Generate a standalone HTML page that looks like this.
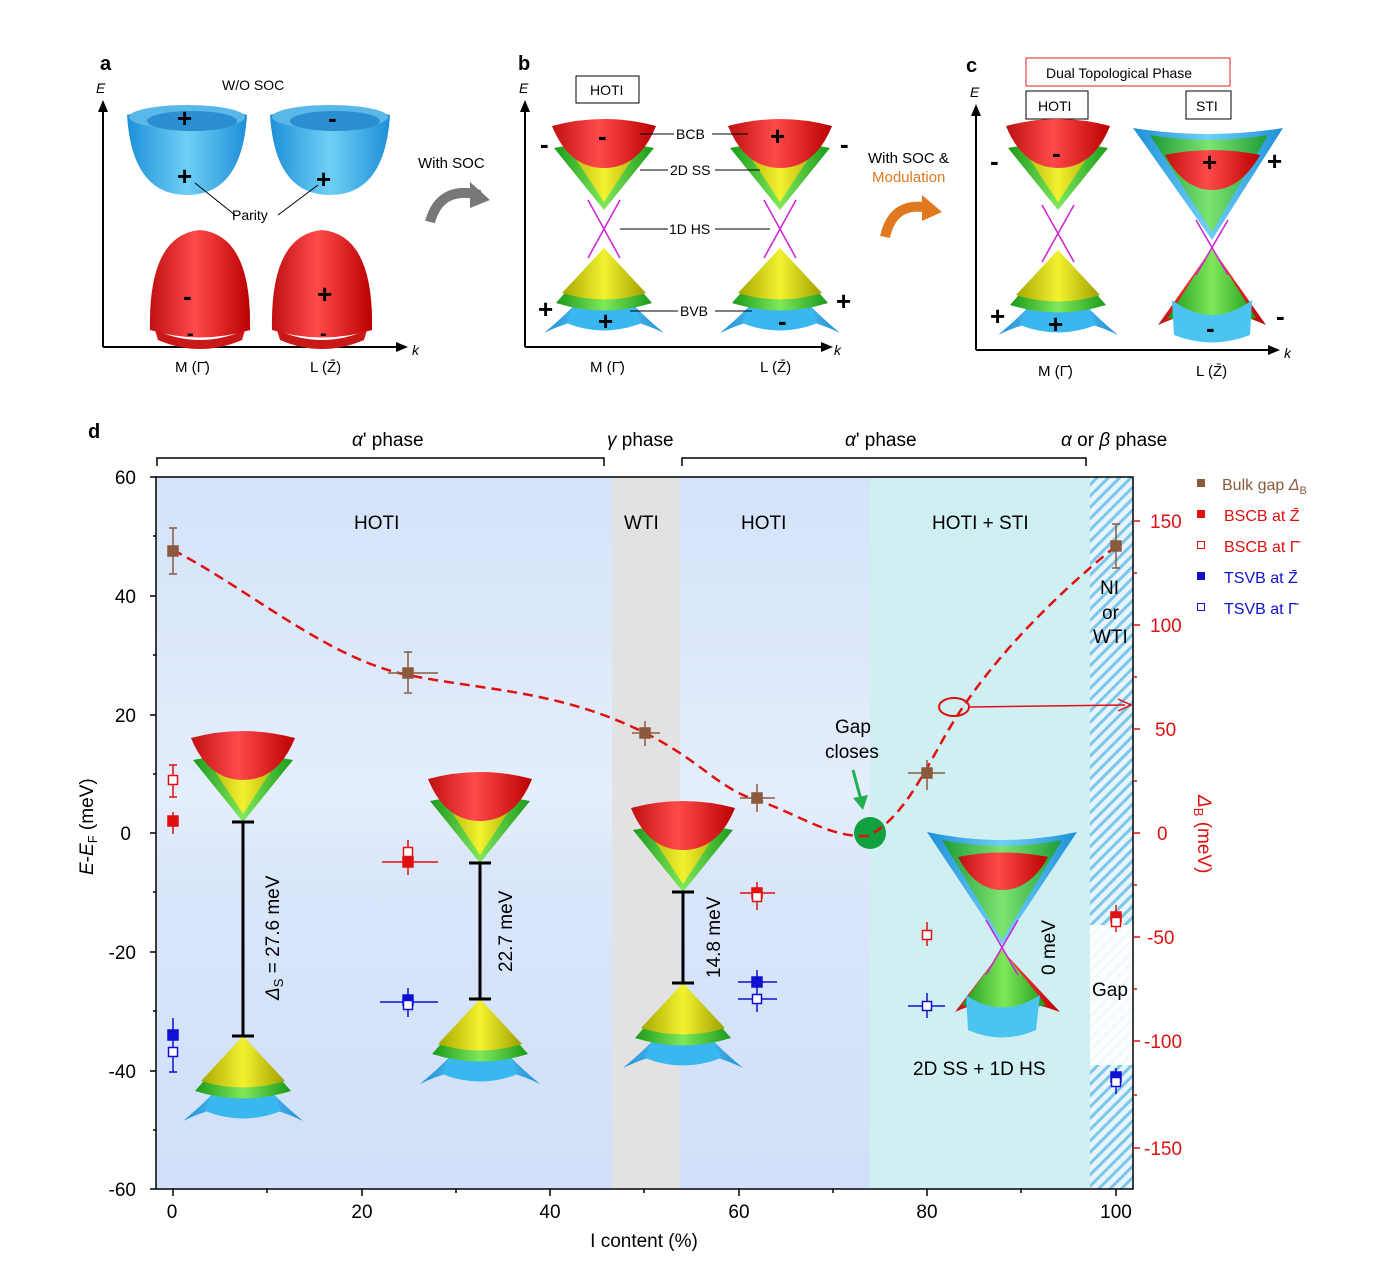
<!DOCTYPE html>
<html><head><meta charset="utf-8"><style>body{margin:0;background:#fff}svg{display:block;font-family:"Liberation Sans",Arial,sans-serif}</style></head><body>
<svg width="1386" height="1275" viewBox="0 0 1386 1275" xmlns="http://www.w3.org/2000/svg">
<defs>
<linearGradient id="blue" x1="0" x2="1"><stop offset="0" stop-color="#1e8fd8"/><stop offset=".5" stop-color="#6fd0f5"/><stop offset="1" stop-color="#1e8fd8"/></linearGradient>
<linearGradient id="red" x1="0" x2="1"><stop offset="0" stop-color="#c01010"/><stop offset=".45" stop-color="#ff4a4a"/><stop offset="1" stop-color="#b00"/></linearGradient>
<linearGradient id="yel" x1="0" x2="1"><stop offset="0" stop-color="#a8a800"/><stop offset=".5" stop-color="#f2f230"/><stop offset="1" stop-color="#a0a000"/></linearGradient>
<linearGradient id="grn" x1="0" x2="1"><stop offset="0" stop-color="#1a9a1a"/><stop offset=".5" stop-color="#7fe85a"/><stop offset="1" stop-color="#1a9a1a"/></linearGradient>
<linearGradient id="bg1" x1="0" y1="0" x2="0" y2="1"><stop offset="0" stop-color="#d3e3f9"/><stop offset=".45" stop-color="#e4eefc"/><stop offset=".55" stop-color="#dae6fa"/><stop offset="1" stop-color="#cfe0f8"/></linearGradient>
<pattern id="hatch" width="8" height="8" patternUnits="userSpaceOnUse" patternTransform="rotate(45)"><rect width="8" height="8" fill="#e8f4fb"/><rect width="3" height="8" fill="#7cc6ea"/></pattern>
<g id="up">
<path d="M-50,-62 L0,0 L50,-62 Q0,-72 -50,-62Z" fill="url(#grn)"/>
<path d="M-42,-72 L0,-8 L42,-72Z" fill="url(#yel)"/>
<path d="M-52,-84 Q0,-98 52,-84 Q35,-42 0,-42 Q-35,-42 -52,-84Z" fill="url(#red)"/>
</g>
<g id="dn">
<path d="M-60,85 Q-30,60 -15,40 L15,40 Q30,60 60,85 Q0,55 -60,85Z" fill="url(#blue)"/>
<path d="M-38,75 Q0,90 38,75 L30,55 L-30,55Z" fill="#38b8ee"/>
<path d="M0,0 L-48,55 Q0,70 48,55Z" fill="url(#grn)"/>
<path d="M0,0 L-42,45 Q0,58 42,45Z" fill="url(#yel)"/>
</g>
<g id="bowl"><path d="M-60,-30 Q-55,50 0,50 Q55,50 60,-30 Q0,-48 -60,-30Z" fill="url(#blue)"/><ellipse cx="0" cy="-28" rx="58" ry="12" fill="#5ab8e8"/><ellipse cx="5" cy="-24" rx="45" ry="10" fill="#2a8ed0"/></g>
<g id="dome"><path d="M-50,40 Q-52,-55 0,-60 Q52,-55 50,40 Q0,55 -50,40Z" fill="url(#red)"/><path d="M-45,40 Q0,60 45,40 L42,50 Q0,68 -42,50Z" fill="#c81818"/></g>
</defs>

<!-- Panel a -->
<text x="100" y="70" font-size="20" font-weight="bold">a</text>
<text x="96" y="93" font-size="14" font-style="italic">E</text>
<path d="M103,347 V108 M103,347 H400" stroke="#000" stroke-width="2" fill="none"/>
<path d="M98,112 L103,100 L108,112Z M396,342 L408,347 L396,352Z"/>
<text x="222" y="90" font-size="14">W/O SOC</text>
<use href="#bowl" x="187" y="145"/><use href="#bowl" x="330" y="145"/>
<use href="#dome" x="200" y="290"/><use href="#dome" x="322" y="290"/>
<g font-size="26" font-weight="bold"><text x="177" y="127">+</text><text x="328" y="127">-</text><text x="177" y="185">+</text><text x="316" y="188">+</text><text x="183" y="305">-</text><text x="317" y="303">+</text><text x="187" y="340" font-size="20">-</text><text x="320" y="340" font-size="20">-</text></g>
<path d="M195,183 L235,215 M278,215 L318,185" stroke="#000"/>
<text x="232" y="220" font-size="14">Parity</text>
<text x="175" y="372" font-size="15">M (Γ̄)</text><text x="310" y="372" font-size="15">L (Z̄)</text>
<text x="412" y="355" font-size="14" font-style="italic">k</text>
<text x="418" y="168" font-size="15">With SOC</text>
<path d="M430,222 Q440,185 480,195" stroke="#777" stroke-width="10" fill="none"/><path d="M470,182 L490,200 L470,208Z" fill="#777"/>

<!-- Panel b -->
<text x="518" y="70" font-size="20" font-weight="bold">b</text>
<text x="519" y="93" font-size="14" font-style="italic">E</text>
<path d="M525,347 V108 M525,347 H825" stroke="#000" stroke-width="2" fill="none"/>
<path d="M520,112 L525,100 L530,112Z M821,342 L833,347 L821,352Z"/>
<rect x="576" y="76" width="63" height="27" fill="none" stroke="#000"/><text x="590" y="95" font-size="14">HOTI</text>
<use href="#up" x="604" y="210"/><use href="#up" x="780" y="210"/>
<use href="#dn" x="604" y="248"/><use href="#dn" x="780" y="248"/>
<path d="M588,200 L620,258 M620,200 L588,258 M764,200 L796,258 M796,200 L764,258" stroke="#d020d0" stroke-width="1.5" fill="none"/>
<g font-size="26" font-weight="bold"><text x="598" y="145">-</text><text x="770" y="145">+</text><text x="540" y="153">-</text><text x="840" y="153">-</text><text x="538" y="318">+</text><text x="598" y="330">+</text><text x="778" y="330">-</text><text x="836" y="310">+</text></g>
<g font-size="14"><text x="676" y="139">BCB</text><text x="670" y="175">2D SS</text><text x="669" y="234">1D HS</text><text x="680" y="316">BVB</text></g>
<path d="M640,134 H674 M712,134 H748 M640,170 H668 M715,170 H760 M620,229 H668 M715,229 H770 M630,311 H678 M715,311 H752" stroke="#000"/>
<text x="590" y="372" font-size="15">M (Γ̄)</text><text x="760" y="372" font-size="15">L (Z̄)</text>
<text x="834" y="355" font-size="14" font-style="italic">k</text>
<text x="868" y="163" font-size="15">With SOC &amp;</text><text x="872" y="182" font-size="15" fill="#e07820">Modulation</text>
<path d="M885,237 Q893,200 930,208" stroke="#e07820" stroke-width="10" fill="none"/><path d="M922,195 L942,212 L922,221Z" fill="#e07820"/>

<!-- Panel c -->
<text x="966" y="72" font-size="20" font-weight="bold">c</text>
<text x="970" y="97" font-size="14" font-style="italic">E</text>
<path d="M976,350 V112 M976,350 H1272" stroke="#000" stroke-width="2" fill="none"/>
<path d="M971,116 L976,104 L981,116Z M1268,345 L1280,350 L1268,355Z"/>
<rect x="1026" y="58" width="204" height="28" fill="none" stroke="#e02020"/><text x="1046" y="78" font-size="14">Dual Topological Phase</text>
<rect x="1026" y="91" width="62" height="28" fill="none" stroke="#000"/><text x="1038" y="111" font-size="14">HOTI</text>
<rect x="1186" y="91" width="45" height="28" fill="none" stroke="#000"/><text x="1196" y="111" font-size="14">STI</text>
<use href="#up" x="1058" y="210"/><use href="#dn" x="1058" y="250"/>
<path d="M1042,205 L1074,262 M1074,205 L1042,262" stroke="#d020d0" stroke-width="1.5"/>
<path d="M1133,128 Q1210,140 1283,128 L1212,240 Z" fill="url(#blue)"/>
<path d="M1150,135 Q1210,145 1268,135 L1212,232Z" fill="url(#grn)" opacity=".85"/>
<path d="M1165,155 Q1212,145 1260,155 Q1240,190 1212,190 Q1184,190 1165,155Z" fill="url(#red)"/>
<path d="M1212,248 L1158,325 Q1212,300 1266,325Z" fill="url(#red)"/>
<path d="M1212,248 L1168,318 Q1212,328 1256,318Z" fill="url(#grn)"/>
<path d="M1172,300 Q1212,330 1252,300 L1250,335 Q1212,350 1174,335Z" fill="#4cc4f0"/>
<path d="M1196,220 L1228,275 M1228,220 L1196,275" stroke="#d020d0" stroke-width="1.5"/>
<g font-size="26" font-weight="bold"><text x="1052" y="162">-</text><text x="990" y="170">-</text><text x="990" y="325">+</text><text x="1048" y="333">+</text><text x="1202" y="171">+</text><text x="1267" y="170">+</text><text x="1206" y="337">-</text><text x="1276" y="325">-</text></g>
<text x="1038" y="376" font-size="15">M (Γ̄)</text><text x="1196" y="376" font-size="15">L (Z̄)</text>
<text x="1284" y="358" font-size="14" font-style="italic">k</text>

<!-- Panel d -->
<text x="88" y="438" font-size="20" font-weight="bold">d</text>
<g font-size="19">
<text x="352" y="446"><tspan font-style="italic">α</tspan>' phase</text>
<text x="607" y="446"><tspan font-style="italic">γ</tspan> phase</text>
<text x="845" y="446"><tspan font-style="italic">α</tspan>' phase</text>
<text x="1061" y="446"><tspan font-style="italic">α</tspan> or <tspan font-style="italic">β</tspan> phase</text>
</g>
<path d="M157,466 V458 H604 V466 M682,466 V458 H1086 V466" stroke="#000" fill="none" stroke-width="1.5"/>
<rect x="156" y="477" width="456" height="712" fill="url(#bg1)"/>
<rect x="612" y="477" width="68" height="712" fill="#e2e2e2"/>
<rect x="680" y="477" width="190" height="712" fill="url(#bg1)"/>
<rect x="870" y="477" width="220" height="712" fill="#d0eff2"/>
<rect x="1090" y="477" width="43" height="712" fill="url(#hatch)"/>
<rect x="1090" y="925" width="43" height="140" fill="#fff" opacity=".9"/>
<rect x="156" y="477" width="977" height="712" fill="none" stroke="#000" stroke-width="1.5"/>
<g font-size="19"><text x="354" y="529">HOTI</text><text x="624" y="529">WTI</text><text x="741" y="529">HOTI</text><text x="932" y="529">HOTI + STI</text>
<text x="1100" y="594">NI</text><text x="1102" y="619">or</text><text x="1093" y="643">WTI</text><text x="1092" y="996">Gap</text></g>
<!-- left ticks -->
<g stroke="#000" stroke-width="1.5"><path d="M150,477 H156 M150,596 H156 M150,715 H156 M150,833 H156 M150,952 H156 M150,1071 H156 M150,1189 H156 M153,536 H156 M153,655 H156 M153,774 H156 M153,892 H156 M153,1011 H156 M153,1130 H156"/>
<path d="M173,1189 V1196 M362,1189 V1196 M550,1189 V1196 M739,1189 V1196 M927,1189 V1196 M1116,1189 V1196 M267,1189 V1193 M456,1189 V1193 M644,1189 V1193 M833,1189 V1193 M1021,1189 V1193"/></g>
<g font-size="19" text-anchor="end"><text x="136" y="484">60</text><text x="136" y="603">40</text><text x="136" y="722">20</text><text x="131" y="840">0</text><text x="136" y="959">-20</text><text x="136" y="1078">-40</text><text x="136" y="1196">-60</text></g>
<g font-size="19" text-anchor="middle"><text x="172" y="1218">0</text><text x="362" y="1218">20</text><text x="550" y="1218">40</text><text x="739" y="1218">60</text><text x="927" y="1218">80</text><text x="1116" y="1218">100</text></g>
<text x="644" y="1247" font-size="19" text-anchor="middle">I content (%)</text>
<text transform="translate(93,875) rotate(-90)" font-size="19"><tspan font-style="italic">E</tspan>-<tspan font-style="italic">E</tspan><tspan font-size="13" dy="4">F</tspan><tspan dy="-4"> (meV)</tspan></text>
<!-- right axis -->
<g stroke="#e01010" stroke-width="1.5"><path d="M1133,521 H1140 M1133,625 H1140 M1133,729 H1140 M1133,833 H1140 M1133,937 H1140 M1133,1041 H1140 M1133,1148 H1140 M1133,573 H1137 M1133,677 H1137 M1133,781 H1137 M1133,885 H1137 M1133,989 H1137 M1133,1095 H1137"/></g>
<g font-size="19" fill="#e01010"><text x="1150" y="528">150</text><text x="1150" y="632">100</text><text x="1155" y="736">50</text><text x="1157" y="840">0</text><text x="1147" y="944">-50</text><text x="1144" y="1048">-100</text><text x="1144" y="1155">-150</text></g>
<text transform="translate(1198,795) rotate(90)" font-size="19" fill="#e01010"><tspan font-style="italic">Δ</tspan><tspan font-size="13" dy="4">B</tspan><tspan dy="-4"> (meV)</tspan></text>
<!-- legend -->
<g font-size="16"><rect x="1197" y="479" width="8" height="8" fill="#8b5a3c"/><text x="1222" y="490" fill="#8b5a3c">Bulk gap <tspan font-style="italic">Δ</tspan><tspan font-size="11" dy="4">B</tspan></text>
<rect x="1197" y="510" width="8" height="8" fill="#e01010"/><text x="1224" y="521" fill="#e01010">BSCB at Z̄</text>
<rect x="1197.5" y="541.5" width="7" height="7" fill="none" stroke="#e01010"/><text x="1224" y="552" fill="#e01010">BSCB at Γ̄</text>
<rect x="1197" y="572" width="8" height="8" fill="#1010d0"/><text x="1224" y="583" fill="#1010d0">TSVB at Z̄</text>
<rect x="1197.5" y="603.5" width="7" height="7" fill="none" stroke="#1010d0"/><text x="1224" y="614" fill="#1010d0">TSVB at Γ̄</text></g>
<!-- cones -->
<use href="#up" x="243" y="822"/><use href="#dn" x="243" y="1036"/>
<use href="#up" x="480" y="863"/><use href="#dn" x="480" y="999"/>
<use href="#up" x="683" y="892"/><use href="#dn" x="683" y="983"/>
<g stroke="#000" stroke-width="3"><path d="M243,822 V1036 M232,822 H254 M232,1036 H254 M480,863 V999 M469,863 H491 M469,999 H491 M683,892 V983 M672,892 H694 M672,983 H694"/></g>
<g font-size="19"><text transform="translate(279,1000) rotate(-90)"><tspan font-style="italic">Δ</tspan><tspan font-size="13" dy="4">S</tspan><tspan dy="-4"> = 27.6 meV</tspan></text>
<text transform="translate(512,972) rotate(-90)">22.7 meV</text>
<text transform="translate(720,978) rotate(-90)">14.8 meV</text>
<text transform="translate(1055,975) rotate(-90)">0 meV</text></g>
<!-- STI cone at 80 -->
<path d="M927,832 Q1002,848 1077,832 L1002,945Z" fill="url(#blue)"/>
<path d="M942,840 Q1002,852 1062,840 L1002,940Z" fill="url(#grn)" opacity=".85"/>
<path d="M958,857 Q1002,848 1048,857 Q1030,890 1002,890 Q975,890 958,857Z" fill="url(#red)"/>
<path d="M1002,950 L955,1012 Q1002,990 1060,1012Z" fill="url(#red)"/>
<path d="M1002,950 L962,1005 Q1002,1015 1046,1005Z" fill="url(#grn)"/>
<path d="M966,995 Q1002,1020 1040,995 L1036,1030 Q1002,1045 968,1030Z" fill="#4cc4f0"/>
<path d="M986,920 L1018,975 M1018,920 L986,975" stroke="#d020d0" stroke-width="1.5"/>
<text x="913" y="1075" font-size="19">2D SS + 1D HS</text>
<text x="835" y="733" font-size="19">Gap</text><text x="825" y="758" font-size="19">closes</text>
<path d="M853,770 L861,800" stroke="#20b050" stroke-width="3"/><path d="M853,798 L863,810 L868,795Z" fill="#20b050"/>
<circle cx="870" cy="833" r="16" fill="#10a040"/>
<!-- dashed curve -->
<path d="M173,550 C250,590 330,660 408,675 C480,690 560,690 645,733 C700,760 720,790 757,800 C800,815 830,838 868,836 C900,820 920,780 940,745 C980,670 1050,600 1116,546" fill="none" stroke="#e01010" stroke-width="2.5" stroke-dasharray="10,6"/>
<ellipse cx="954" cy="707" rx="15" ry="9" fill="none" stroke="#e01010" stroke-width="2"/>
<path d="M969,707 L1125,705" stroke="#e01010" stroke-width="1.5"/><path d="M1118,699 L1131,705 L1118,711" fill="none" stroke="#e01010" stroke-width="1.5"/>
<!-- bulk gap points -->
<g stroke="#8b5a3c" stroke-width="1.5" fill="#8b5a3c">
<path d="M173,528 V574 M169,528 H177 M169,574 H177"/><rect x="168" y="546" width="10" height="10"/>
<path d="M408,652 V693 M388,673 H438 M404,652 H412 M404,693 H412"/><rect x="403" y="668" width="10" height="10"/>
<path d="M645,721 V746 M632,733 H660"/><rect x="640" y="728" width="10" height="10"/>
<path d="M757,784 V812 M740,798 H775"/><rect x="752" y="793" width="10" height="10"/>
<path d="M927,760 V790 M908,773 H945"/><rect x="922" y="768" width="10" height="10"/>
<path d="M1116,524 V568 M1112,524 H1120 M1112,568 H1120"/><rect x="1111" y="541" width="10" height="10"/>
</g>
<g stroke="#e01010" stroke-width="1.5" fill="#e01010">
<path d="M173,812 V834 M173,765 V797 M169,765 H177 M169,797 H177"/><rect x="168" y="816" width="10" height="10"/><rect x="168.5" y="775.5" width="9" height="9" fill="#fff"/>
<path d="M408,840 V875 M382,862 H438"/><rect x="403" y="857" width="10" height="10"/><rect x="403.5" y="847.5" width="9" height="9" fill="#fff"/>
<path d="M757,882 V910 M740,893 H775"/><rect x="752" y="888" width="10" height="10"/><rect x="752.5" y="892.5" width="9" height="9" fill="#fff"/>
<path d="M927,922 V946"/><rect x="922.5" y="930.5" width="9" height="9" fill="#fff"/>
<path d="M1116,905 V932"/><rect x="1111" y="912" width="10" height="10"/><rect x="1111.5" y="917.5" width="9" height="9" fill="#fff"/>
</g>
<g stroke="#1010d0" stroke-width="1.5" fill="#1010d0">
<path d="M173,1018 V1072 M169,1072 H177"/><rect x="168" y="1030" width="10" height="10"/><rect x="168.5" y="1047.5" width="9" height="9" fill="#fff"/>
<path d="M408,988 V1017 M380,1002 H438"/><rect x="403" y="995" width="10" height="10"/><rect x="403.5" y="1000.5" width="9" height="9" fill="#fff"/>
<path d="M757,970 V1012 M738,982 H777 M738,999 H777"/><rect x="752" y="977" width="10" height="10"/><rect x="752.5" y="994.5" width="9" height="9" fill="#fff"/>
<path d="M927,993 V1018 M908,1006 H945"/><rect x="922.5" y="1001.5" width="9" height="9" fill="#fff"/>
<path d="M1116,1068 V1094"/><rect x="1111" y="1072" width="10" height="10"/><rect x="1111.5" y="1077.5" width="9" height="9" fill="#fff"/>
</g>
</svg>
</body></html>
